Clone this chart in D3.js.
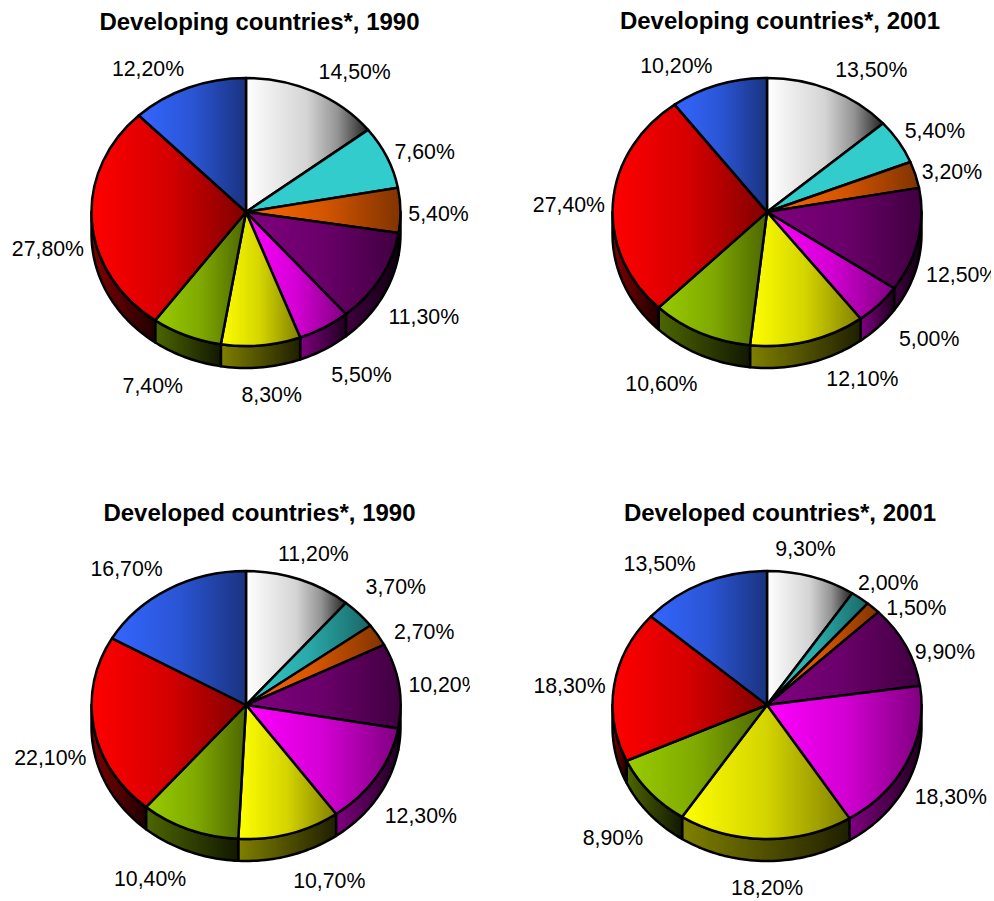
<!DOCTYPE html>
<html><head><meta charset="utf-8">
<script src="https://cdn.jsdelivr.net/npm/d3@7"></script>
<style>html,body{margin:0;padding:0;background:#fff}svg{display:block}text{font-family:"Liberation Sans",Arial,sans-serif;fill:#000}</style>
</head><body><div id="c"></div>
<script>
const chartTitles = ["Developing countries*, 1990","Developing countries*, 2001","Developed countries*, 1990","Developed countries*, 2001"];
const developing1990 = [14.5,7.6,5.4,11.3,5.5,8.3,7.4,27.8,12.2];
const developing2001 = [13.5,5.4,3.2,12.5,5.0,12.1,10.6,27.4,10.2];
const developed1990  = [11.2,3.7,2.7,10.2,12.3,10.7,10.4,22.1,16.7];
const developed2001  = [9.3,2.0,1.5,9.9,18.3,18.2,8.9,18.3,13.5];
const seriesValues = [developing1990,developing2001,developed1990,developed2001];

const sliceColors = ["#ffffff","#33cccc","#ff6600","#800080","#ff00ff","#ffff00","#99cc00","#ff0000","#3366ff"];
const panelCenters = [[246,212],[767,212],[246,705],[767,705]];
const panelClipRight = [994,991,470,994];
const titleCenters = [[259.5,22],[780,21],[259.5,513],[780,513]];
const rx=154.5, ry=134, depth=22;
// label nudges from the plain radial position [dx,dy], per panel and slice
const labelNudges = [
 [[24,-2],[3,2],[0,3],[10,7],[18,8],[7,7],[-19,9],[-6,4],[-26,-1]],
 [[25,-2],[4,-1],[0,2],[7,8],[23,-2],[44,-4],[-23,10],[-6,3],[-30,0]],
 [[1,-7],[9,-13],[14,7],[8,2],[12,6],[29,6],[-25,8],[-6,4],[-23,-3]],
 [[-17,-9],[5,0],[17,14],[5,14],[9,5],[2,7],[-8,10],[-7,3],[-28,-1]]
];
const fmt = v => v.toFixed(2).replace(".",",")+"%";

const svg = d3.select("#c").append("svg").attr("width",994).attr("height",901);
const defs = svg.append("defs");
function scaled(c,k){const b=d3.rgb(c);return d3.rgb(b.r*k,b.g*k,b.b*k).formatHex();}
function grad(id,stops){
  const g=defs.append("linearGradient").attr("id",id).attr("x1",0).attr("x2",1).attr("y1",0).attr("y2",0);
  stops.forEach(s=>g.append("stop").attr("offset",s[0]).attr("stop-color",s[1]));
}
sliceColors.forEach((c,i)=>{
  if(i===0) grad("top0",[[0,"#ffffff"],[0.5,"#d4d4d4"],[0.75,"#949494"],[1,"#222222"]]);
  else grad("top"+i,[[0,c],[0.5,scaled(c,0.83)],[1,scaled(c,0.5)]]);
  grad("side"+i,[[0,scaled(c,0.5)],[1,scaled(c,0.12)]]);
});
defs.append("linearGradient").attr("id","flatCyan").call(g=>{
  g.append("stop").attr("offset",0).attr("stop-color",sliceColors[1]);
  g.append("stop").attr("offset",1).attr("stop-color",sliceColors[1]);
});
const pie=d3.pie().sort(null).value(d=>d);
const arc=d3.arc().innerRadius(0).outerRadius(1);
const unitX=d3.scaleLinear().domain([0,1]).range([0,rx]);
const unitY=d3.scaleLinear().domain([0,1]).range([0,ry]);
const wall=d3.line().x(d=>unitX(d[0])).y(d=>unitY(d[1])+d[2]);

seriesValues.forEach((vals,p)=>{
  const [cx,cy]=panelCenters[p];
  const clipId="clip"+p;
  defs.append("clipPath").attr("id",clipId).append("rect").attr("x",0).attr("y",0).attr("width",panelClipRight[p]).attr("height",901);
  const g=svg.append("g").attr("clip-path",`url(#${clipId})`);
  g.append("text").attr("x",titleCenters[p][0]).attr("y",titleCenters[p][1]).attr("dy","0.35em")
    .attr("text-anchor","middle").attr("font-size",24).attr("font-weight","bold").text(chartTitles[p]);
  const pg=g.append("g").attr("transform",`translate(${cx},${cy})`);
  const arcs=pie(vals);
  arcs.forEach((a,i)=>{
    const lo=Math.max(a.startAngle,Math.PI/2), hi=Math.min(a.endAngle,Math.PI*1.5);
    if(hi<=lo) return;
    const n=Math.max(2,Math.ceil((hi-lo)*40));
    const ang=d3.range(n+1).map(j=>lo+(hi-lo)*j/n);
    const pts=ang.map(t=>[Math.sin(t),-Math.cos(t),0]).concat(ang.slice().reverse().map(t=>[Math.sin(t),-Math.cos(t),depth]));
    pg.append("path").attr("d",wall(pts)+"Z").attr("fill",`url(#side${i})`).attr("stroke","#000").attr("stroke-width",2.5).attr("stroke-linejoin","round");
  });
  arcs.forEach((a,i)=>{
    const fill=(p<2&&i===1)?"url(#flatCyan)":`url(#top${i})`;
    pg.append("path").attr("d",arc(a)).attr("transform",`scale(${rx},${ry})`)
      .attr("fill",fill).attr("stroke","#000").attr("stroke-width",2.5).attr("vector-effect","non-scaling-stroke").attr("stroke-linejoin","round");
  });
  arcs.forEach((a,i)=>{
    const m=(a.startAngle+a.endAngle)/2, n=labelNudges[p][i];
    const bottom=Math.cos(m)<0?depth:0;
    const x=cx+Math.sin(m)*(rx+38)+n[0], y=cy-Math.cos(m)*(ry+20)+bottom+n[1];
    g.append("text").attr("x",x).attr("y",y).attr("dy","0.35em").attr("text-anchor","middle").attr("font-size",21.3).attr("fill","#111").text(fmt(vals[i]));
  });
});
</script></body></html>
